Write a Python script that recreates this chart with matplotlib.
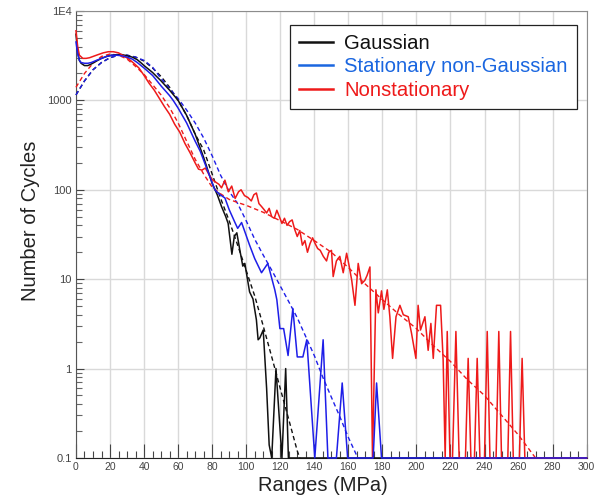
import numpy as np
import matplotlib
matplotlib.use("Agg")
import matplotlib.pyplot as plt
from matplotlib.lines import Line2D
from matplotlib.ticker import FixedLocator, NullFormatter

plt.rcParams['font.family'] = ['Liberation Sans', 'DejaVu Sans']

# --- datos (Ranges en MPa, Number of Cycles) ---
# Gaussian, histograma
gauss_x = [0, 1, 2, 3, 5, 7, 9, 12, 15, 18, 21, 24, 27, 30, 33, 36, 38, 40, 45, 50,
           55, 60, 65, 70, 75, 80, 83, 85.5, 88, 89.4, 91.6, 93, 94.5, 96.3, 98, 99.2,
           102, 104, 106, 107, 108, 110, 112, 113.5, 115, 117.5, 121, 123.2, 124.8, 300]
gauss_y = [5500, 3500, 2800, 2600, 2450, 2450, 2550, 2750, 2950, 3100, 3200, 3250, 3250,
           3150, 3050, 2850, 2650, 2450, 2050, 1650, 1300, 1000, 680, 420, 230, 118, 88,
           65, 50, 42, 19, 30, 33, 21, 14, 15, 7.2, 6, 3.5, 2.1, 2.2, 2.7, 0.6, 0.14, 0.1,
           1.0, 0.1, 1.0, 0.1, 0.1]
# Gaussian, ajuste (linea de trazos)
gauss_fit_x = [0, 5, 10, 15, 20, 25, 30, 35, 40, 45, 50, 55, 60, 65, 70, 75, 80, 85, 90,
               95, 100, 105, 110, 115, 120, 125, 130, 131.5]
gauss_fit_y = [1150, 1650, 2200, 2650, 3000, 3200, 3200, 3050, 2750, 2300, 1850, 1400,
               1000, 680, 420, 280, 150, 80, 45, 24, 12.5, 6.5, 3.0, 1.35, 0.6, 0.27,
               0.12, 0.1]

# Stationary non-Gaussian, histograma
stat_x = [0, 1, 2, 3, 5, 7, 9, 12, 15, 18, 21, 24, 27, 30, 33, 36, 40, 45, 50, 55, 57.1,
          60, 65, 70, 73, 77, 81.6, 84, 87.5, 90, 93.4, 95, 97.3, 102, 105, 109, 110,
          112.7, 116.8, 118, 119.8, 122, 124.6, 127.4, 130, 133.3, 135.6, 140.3, 145.2,
          148, 153, 156.4, 159.6, 174.6, 176.6, 179.5, 300]
stat_y = [4500, 3300, 2800, 2650, 2600, 2600, 2650, 2800, 2950, 3100, 3200, 3200, 3150,
          3050, 2900, 2650, 2300, 1900, 1450, 1130, 1000, 820, 560, 350, 270, 170, 100,
          90, 81, 60, 43, 37, 43, 24, 17, 11.8, 12.6, 15, 7.6, 5.9, 2.8, 2.8, 1.4, 4.7,
          1.35, 1.35, 2.1, 0.1, 2.1, 0.1, 0.1, 0.69, 0.1, 0.1, 0.69, 0.1, 0.1]
# Stationary non-Gaussian, ajuste
stat_fit_x = [0, 5, 10, 15, 20, 25, 30, 35, 40, 45, 50, 55, 60, 65, 70, 75, 80, 85, 90,
              95, 100, 105, 110, 115, 120, 125, 130, 140, 145, 150, 155, 160, 165.6]
stat_fit_y = [1150, 1650, 2200, 2650, 3000, 3200, 3200, 3050, 2800, 2350, 1750, 1350,
              1050, 780, 560, 380, 240, 145, 96, 70, 45, 28, 18.6, 12.6, 8.4, 5.6, 3.7,
              1.4, 0.8, 0.48, 0.29, 0.17, 0.1]

# Nonstationary, histograma
nonst_x = [0, 1, 2, 4, 6, 8, 10, 13, 16, 19, 22, 25, 28, 31, 34, 37, 40, 43, 46, 49, 52,
           55, 58, 61, 64, 67, 70, 72, 74, 76, 78, 80, 82, 84, 85.5, 87.5, 89.5, 91.5,
           93.5, 95.5, 97, 99, 101, 103, 104.5, 106, 107.5, 109, 110.5, 112, 113.5, 115,
           116.5, 118, 119.5, 121, 122.5, 124, 125.5, 127, 128.5, 130, 131.5, 133, 134.5,
           136, 137.5, 139, 140.5, 142, 143.5, 145.3, 147.2, 148.5, 150.1, 151.1, 153,
           155, 157, 159, 160.5, 162, 163.9, 165.8, 167.8, 169.7, 171, 172.7, 174.2,
           176.2, 177.6, 179.5, 180.9, 182.9, 184.4, 186, 188, 190.3, 192.3, 195.2,
           197.1, 199.7, 201, 202.4, 205, 206.9, 208.5, 209.9, 211.8, 214.2, 215.7,
           216.9, 218.1, 219.7, 221.2, 223.2, 225.1, 228.8, 230.4, 232, 234.1, 235.7,
           237.3, 240, 241.6, 243.2, 246.8, 248.4, 250, 253.7, 255.3, 256.9, 260.5,
           262.1, 263.7, 300]
nonst_y = [6000, 4000, 3200, 2950, 2950, 3000, 3100, 3250, 3400, 3500, 3500, 3400, 3150,
           2900, 2600, 2300, 1900, 1550, 1300, 1050, 850, 700, 540, 440, 330, 260, 200,
           170, 166, 175, 150, 130, 122, 115, 105, 128, 95, 110, 80, 95, 100, 86, 82, 75,
           88, 92, 70, 65, 60, 55, 62, 50, 48, 59, 50, 42, 48, 40, 44, 46, 36, 30, 35,
           24, 27, 20, 25, 29, 25, 22, 21, 18, 16, 20, 21, 10.7, 16, 18, 11.8, 19.5, 14,
           9.7, 5.1, 15, 8.9, 9.7, 11, 13.7, 0.1, 7.6, 4.2, 7.4, 4.6, 7.6, 3.8, 1.3,
           3.8, 5.1, 4.0, 3.8, 2.5, 1.3, 5.1, 2.7, 3.8, 1.6, 3.2, 1.3, 5.1, 5.1, 1.25,
           0.1, 2.6, 0.1, 0.1, 2.6, 0.1, 0.1, 1.3, 0.1, 0.1, 1.3, 0.1, 0.1, 2.6, 0.1,
           0.1, 2.6, 0.1, 0.1, 2.6, 0.1, 0.1, 1.3, 0.1, 0.1]
# Nonstationary, ajuste
nonst_fit_x = [0, 5, 10, 15, 20, 25, 30, 35, 40, 45, 50, 55, 60, 65, 70, 75, 80, 85, 90,
               95, 100, 110, 120, 130, 140, 150, 160, 170, 180, 190, 200, 210, 220, 230,
               240, 250, 260, 270]
nonst_fit_y = [1400, 2000, 2600, 3100, 3300, 3200, 2900, 2400, 1950, 1500, 1150, 830,
               560, 350, 220, 150, 107, 90, 78, 72, 67, 56, 45, 36, 27, 20, 13.5, 8.8,
               5.9, 4.0, 2.8, 1.8, 1.2, 0.75, 0.5, 0.3, 0.18, 0.1]

y_ticks = [0.1, 1, 10, 100, 1000, 10000]
y_tick_labels = ["0.1", "1", "10", "100", "1000", "1E4"]

c_black = "#111111"
c_blue = "#1e1ee8"
c_red = "#ee1a1a"
c_legblue = "#1a66e0"

fig = plt.figure(figsize=(5.94, 5.03), dpi=100)
ax = fig.add_axes([0.1279, 0.0895, 0.8597, 0.8887])

dash = (0, (3.2, 2.2))
ax.plot(gauss_fit_x, gauss_fit_y, color=c_black, lw=1.0, ls=dash, clip_on=False, zorder=3)
ax.plot(stat_fit_x, stat_fit_y, color=c_blue, lw=1.0, ls=dash, clip_on=False, zorder=3)
ax.plot(nonst_fit_x, nonst_fit_y, color=c_red, lw=1.0, ls=dash, clip_on=False, zorder=3)
ax.plot(gauss_x, gauss_y, color=c_black, lw=1.1, clip_on=False, zorder=3)
ax.plot(nonst_x, nonst_y, color=c_red, lw=1.1, clip_on=False, zorder=3)
ax.plot(stat_x, stat_y, color=c_blue, lw=1.1, clip_on=False, zorder=3)

ax.set_yscale("log")
ax.set_xlim(0, 300)
ax.set_ylim(0.1, 1e4)

ax.yaxis.set_major_locator(FixedLocator(y_ticks))
ax.set_yticklabels(y_tick_labels)
ax.yaxis.set_minor_locator(FixedLocator(
    [m * 10.0 ** e for e in range(-1, 4) for m in range(2, 10)]))
ax.yaxis.set_minor_formatter(NullFormatter())
ax.set_xticks(np.arange(0, 301, 20))
ax.set_xticks(np.arange(0, 301, 5), minor=True)

ax.tick_params(axis="x", which="major", direction="in", length=10, width=0.8,
               color="#444444", labelsize=7.5, labelcolor="#444444", pad=3)
ax.tick_params(axis="x", which="minor", direction="in", length=5, width=0.8,
               color="#444444")
ax.tick_params(axis="y", which="major", direction="in", length=6, width=0.8,
               color="#444444", labelsize=8, labelcolor="#444444", pad=3)
ax.tick_params(axis="y", which="minor", direction="in", length=4, width=0.8,
               color="#666666")

ax.grid(True, which="major", color="#d9d9d9", lw=1.0)
ax.set_axisbelow(True)
for s in ["top", "right"]:
    ax.spines[s].set_color("#8c8c8c")
ax.spines["left"].set_color("#555555")
ax.spines["bottom"].set_color("#222222")

ax.set_xlabel("Ranges (MPa)", fontsize=14.5, color="#222222")
ax.xaxis.set_label_coords(0.484, -0.04)
ax.set_ylabel("Number of Cycles", fontsize=14.5, color="#222222")
ax.yaxis.set_label_coords(-0.07, 0.53)

handles = [Line2D([], [], color=c_black, lw=1.8),
           Line2D([], [], color=c_legblue, lw=1.8),
           Line2D([], [], color=c_red, lw=1.8)]
leg = ax.legend(handles, ["Gaussian", "Stationary non-Gaussian", "Nonstationary"],
                loc="upper right", bbox_to_anchor=(0.981, 0.969), borderaxespad=0,
                fontsize=14.6, handlelength=1.7, handletextpad=0.55, labelspacing=0.22,
                borderpad=0.45, fancybox=False, framealpha=1, edgecolor="#222222")
leg.get_frame().set_linewidth(0.9)
leg.set_zorder(5)
for t, c in zip(leg.get_texts(), [c_black, c_legblue, c_red]):
    t.set_color(c)

fig.savefig("out.png", dpi=100)
